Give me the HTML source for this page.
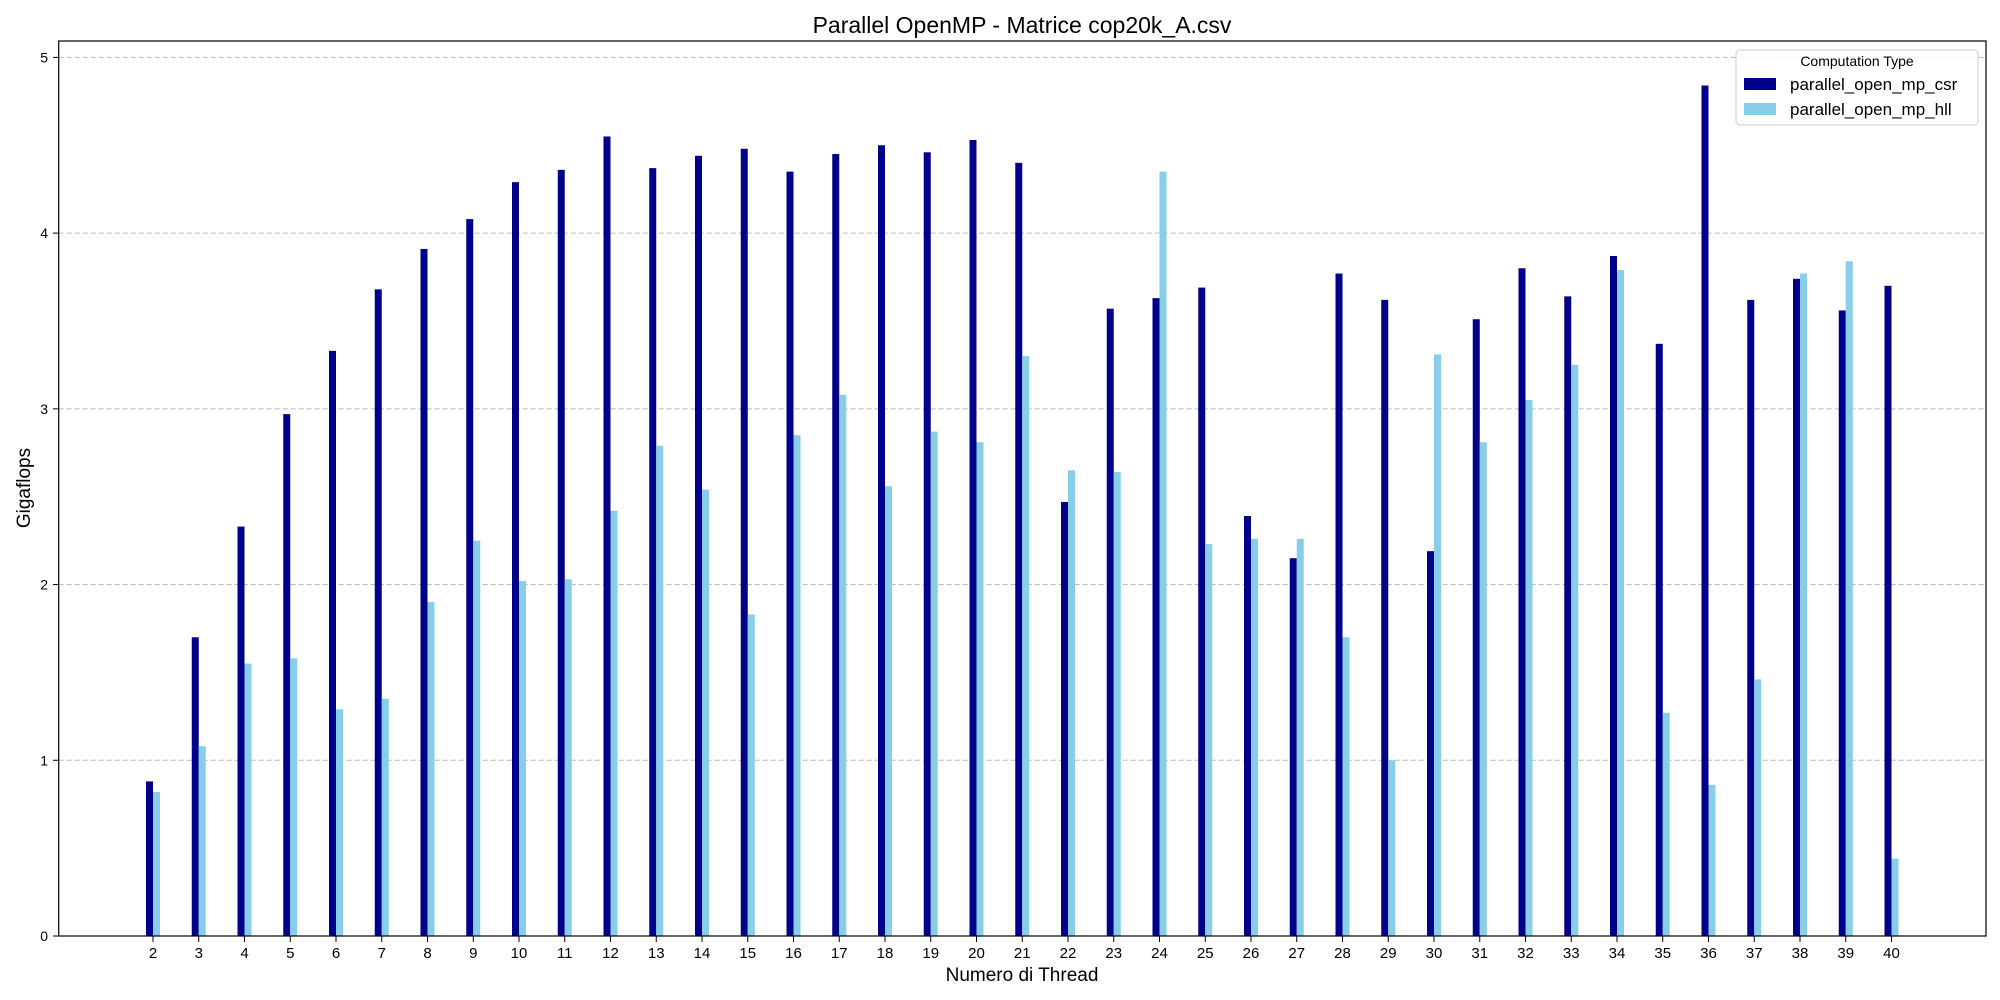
<!DOCTYPE html>
<html><head><meta charset="utf-8"><style>
body{margin:0;background:#fff;}
svg{display:block;font-family:"Liberation Sans","DejaVu Sans",sans-serif;}
</style></head><body>
<svg id="chart" width="2000" height="1000" xmlns="http://www.w3.org/2000/svg">
<rect width="2000" height="1000" fill="#fff"/>
<text x="1022" y="33" font-size="23" text-anchor="middle">Parallel OpenMP - Matrice cop20k_A.csv</text>
<g id="grid"></g><g id="bars"></g><g id="xticks"></g><g id="yticks"></g>
<rect x="58.7" y="41" width="1927.3" height="895" fill="none" stroke="#000" stroke-width="1.2"/>
<text x="1022" y="981" font-size="19" text-anchor="middle">Numero di Thread</text>
<text x="30" y="488" font-size="19" text-anchor="middle" transform="rotate(-90 30 488)">Gigaflops</text>
<g>
<rect x="1736" y="50" width="242" height="75" rx="4" fill="#fff" fill-opacity="0.8" stroke="#ccc"/>
<text x="1857" y="66" font-size="14" text-anchor="middle">Computation Type</text>
<rect x="1744" y="78" width="32" height="12" fill="#00008b"/>
<text x="1790" y="90" font-size="17">parallel_open_mp_csr</text>
<rect x="1744" y="103" width="32" height="12" fill="#87ceeb"/>
<text x="1790" y="115" font-size="17">parallel_open_mp_hll</text>
</g>
</svg>
<script>
const categories=[2,3,4,5,6,7,8,9,10,11,12,13,14,15,16,17,18,19,20,21,22,23,24,25,26,27,28,29,30,31,32,33,34,35,36,37,38,39,40];
const csrValues=[0.88,1.70,2.33,2.97,3.33,3.68,3.91,4.08,4.29,4.36,4.55,4.37,4.44,4.48,4.35,4.45,4.50,4.46,4.53,4.40,2.47,3.57,3.63,3.69,2.39,2.15,3.77,3.62,2.19,3.51,3.80,3.64,3.87,3.37,4.84,3.62,3.74,3.56,3.70];
const hllValues=[0.82,1.08,1.55,1.58,1.29,1.35,1.90,2.25,2.02,2.03,2.42,2.79,2.54,1.83,2.85,3.08,2.56,2.87,2.81,3.30,2.65,2.64,4.35,2.23,2.26,2.26,1.70,1.00,3.31,2.81,3.05,3.25,3.79,1.27,0.86,1.46,3.77,3.84,0.44];
const yTicks=[0,1,2,3,4,5];
const NS="http://www.w3.org/2000/svg";
const x0=153,step=45.75,bw=7;
function xPos(i){return x0+i*step;}
function yPos(v){return 936-v*175.72;}
function mk(tag,attrs,parent){const e=document.createElementNS(NS,tag);for(const k in attrs)e.setAttribute(k,attrs[k]);document.getElementById(parent).appendChild(e);return e;}
yTicks.forEach(t=>{
  const y=yPos(t);
  if(t>0){const g=mk('line',{x1:58.7,x2:1986,y1:y,y2:y,stroke:'#bbb','stroke-dasharray':'5,3','stroke-width':1},'grid');
  
  }
  mk('line',{x1:53,x2:58.7,y1:y,y2:y,stroke:'#000'},'yticks');
  const tx=mk('text',{x:48,y:y+5,'font-size':14,'text-anchor':'end'},'yticks');tx.textContent=t;
  
  
});
categories.forEach((c,i)=>{
  const x=xPos(i);
  const a=mk('rect',{x:x-bw,y:yPos(csrValues[i]),width:bw,height:936-yPos(csrValues[i]),fill:'#00008b'},'bars');
  
  
  const b=mk('rect',{x:x,y:yPos(hllValues[i]),width:bw,height:936-yPos(hllValues[i]),fill:'#87ceeb'},'bars');
  
  
  mk('line',{x1:x,x2:x,y1:936,y2:942,stroke:'#000'},'xticks');
  const t=mk('text',{x:x,y:958,'font-size':15,'text-anchor':'middle'},'xticks');t.textContent=c;
  
  
});
</script>
</body></html>
